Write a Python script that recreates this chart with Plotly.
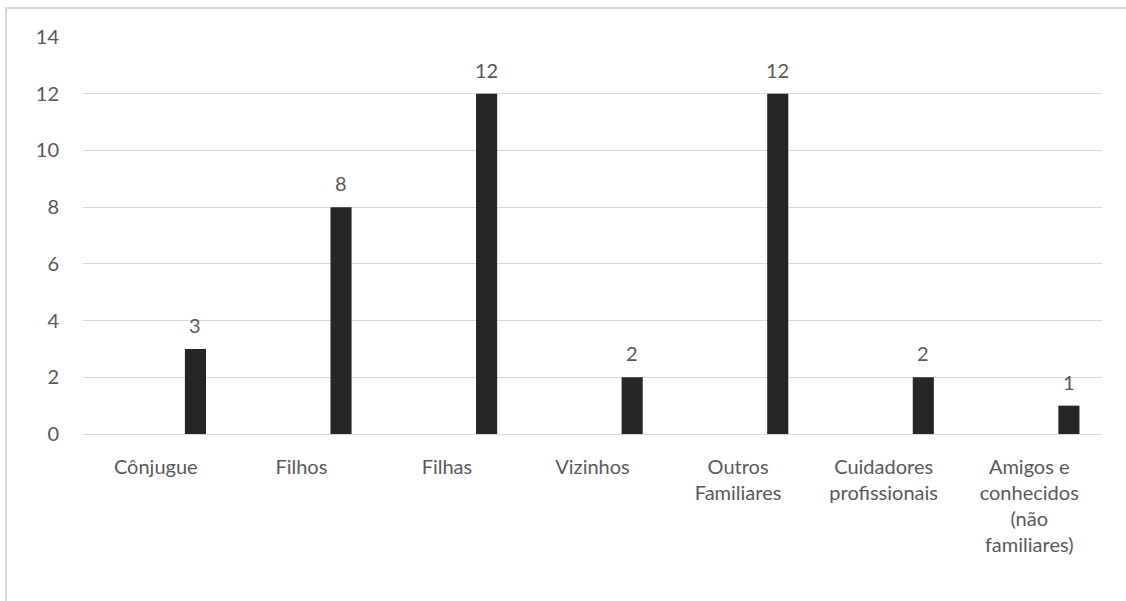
import plotly.graph_objects as go

categories = ["Cônjugue", "Filhos", "Filhas", "Vizinhos", "Outros<br>Familiares",
              "Cuidadores<br>profissionais", "Amigos e<br>conhecidos<br>(não<br>familiares)"]
values = [3, 8, 12, 2, 12, 2, 1]
y_ticks = [0, 2, 4, 6, 8, 10, 12, 14]

W, H = 1126, 601
L, R, T, B = 83, 24, 37, 167
pw = W - L - R
ph = H - T - B

bar_offset = 0.2
bar_width = 0.145
font = "Lato, Carlito, Calibri, sans-serif"
txt = "#595959"

fig = go.Figure()
fig.add_trace(go.Bar(
    x=categories, y=values,
    marker=dict(color="#262626", line=dict(width=0)),
    offset=bar_offset, width=bar_width,
    hoverinfo="x+y",
))

cat_px = pw / len(categories)
shift = (bar_offset + bar_width / 2) * cat_px
for c, v in zip(categories, values):
    fig.add_annotation(x=c, y=v, text=str(v), showarrow=False,
                       xshift=shift, yshift=10, yanchor="bottom",
                       font=dict(family=font, size=20, color=txt))

# outer chart border
fig.add_shape(type="rect", xref="paper", yref="paper",
              x0=(6 - L) / pw, x1=(W + 10 - L) / pw,
              y0=-(B + 10) / ph, y1=1 + (T - 8) / ph,
              line=dict(color="#d9d9d9", width=2), fillcolor="rgba(0,0,0,0)", layer="below")

fig.update_layout(
    width=W, height=H,
    margin=dict(l=L, r=R, t=T, b=B, autoexpand=False),
    paper_bgcolor="white", plot_bgcolor="white",
    showlegend=False,
    font=dict(family=font, size=20, color=txt),
    xaxis=dict(type="category", showgrid=False, ticks="", showline=True,
               linecolor="#d9d9d9", linewidth=1,
               tickfont=dict(family=font, size=20, color=txt),
               ticklabelstandoff=15),
    yaxis=dict(range=[0, 14], tickvals=y_ticks, showgrid=True, gridcolor="#d9d9d9",
               gridwidth=1, zeroline=False, showline=False, ticks="",
               tickfont=dict(family=font, size=20, color=txt), ticklabelstandoff=23),
)

fig.write_html("out.html")
